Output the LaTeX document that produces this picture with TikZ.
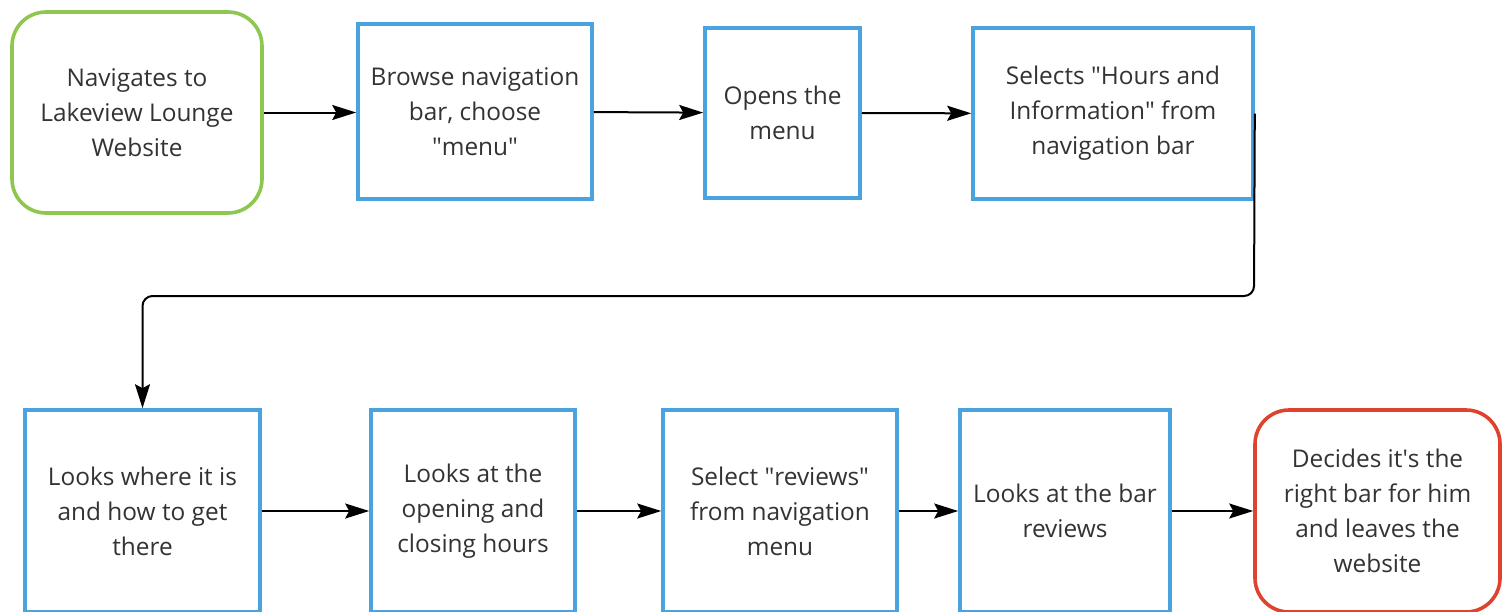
\documentclass[tikz,border=0pt]{standalone}
\usepackage{fontspec}
\setmainfont{Open Sans}
\usepackage{xcolor}
\usepackage{tikz}
\usetikzlibrary{arrows.meta,positioning}
\definecolor{startgreen}{HTML}{8DC74F}
\definecolor{stepblue}{HTML}{4AA2DE}
\definecolor{endred}{HTML}{E0432D}
\definecolor{txtgray}{HTML}{333333}
\newcommand{\qmark}{\textquotedbl}
\newcommand{\apos}{\textquotesingle}
\tikzset{
  ar/.style={-{Stealth[length=12pt,width=7.5pt,inset=2pt]},line width=1pt,black},
  stepbox/.style={draw=stepblue,line width=1.8pt,fill=white,align=center,text=txtgray,
    font=\fontsize{12.2}{17.5}\selectfont,inner sep=2pt},
  startbox/.style={stepbox,draw=startgreen,rounded corners=17pt},
  endbox/.style={stepbox,draw=endred,rounded corners=17pt}
}

\begin{document}
\begin{tikzpicture}[x=0.5pt,y=-0.5pt]
\useasboundingbox (0,0) rectangle (1502,611);
% top row
\node[startbox,minimum width=125pt,minimum height=100.5pt] (nav) at (137,112.5) {Navigates to\\Lakeview Lounge\\Website};
\node[stepbox,minimum width=117pt,minimum height=87.5pt] (browse) at (475,111.5) {Browse navigation\\bar, choose\\\qmark menu\qmark};
\node[stepbox,minimum width=77.5pt,minimum height=85pt] (opens) at (782.5,113) {Opens the\\menu};
\node[stepbox,minimum width=140pt,minimum height=85.5pt] (hours) at (1113,113.5) {Selects \qmark Hours and\\Information\qmark\ from\\navigation bar};
% bottom row
\node[stepbox,minimum width=117.5pt,minimum height=101pt] (where) at (142.5,511) {Looks where it is\\and how to get\\there};
\node[stepbox,minimum width=102pt,minimum height=101pt] (closing) at (473,511) {Looks at the\\opening and\\closing hours};
\node[stepbox,minimum width=117pt,minimum height=101pt] (reviews) at (780,511) {Select \qmark reviews\qmark\\from navigation\\menu};
\node[stepbox,minimum width=105pt,minimum height=101pt] (barrev) at (1065,511) {Looks at the bar\\reviews};
\node[endbox,minimum width=122.5pt,minimum height=101pt] (leave) at (1377.5,511) {Decides it\apos s the\\right bar for him\\and leaves the\\website};
\coordinate (bend) at (1254,296);
% connectors
\draw[ar] (nav) -- (browse.west |- nav);
\draw[ar] (browse) -- (opens);
\draw[ar] (opens) -- (hours);
\draw[ar,rounded corners=5pt] (hours.east) -- (bend) -| (where.north);
\draw[ar] (where) -- (closing);
\draw[ar] (closing) -- (reviews);
\draw[ar] (reviews) -- (barrev);
\draw[ar] (barrev) -- (leave);
\end{tikzpicture}
\end{document}
